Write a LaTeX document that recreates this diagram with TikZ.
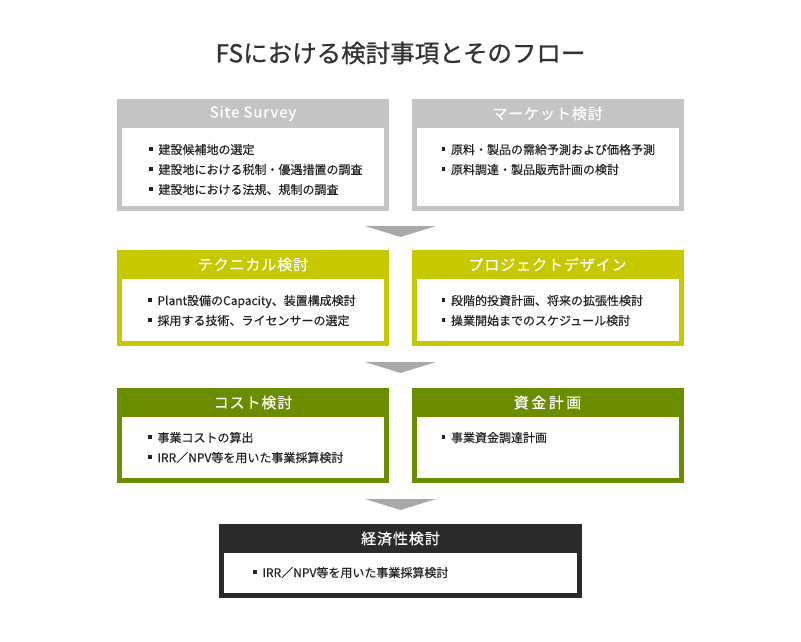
\documentclass[tikz,border=0pt]{standalone}
\usepackage{fontspec}
\setmainfont{Noto Sans CJK JP}
\newfontfamily\titlefont[FakeBold=0.8]{Noto Sans CJK JP}
\newfontfamily\headfont[FakeBold=0.5,LetterSpace=6]{Noto Sans CJK JP}
\newfontfamily\itemfont[FakeBold=0.2]{Noto Sans CJK JP}
\usepackage{tikz}
\usetikzlibrary{positioning}
\definecolor{surveygray}{HTML}{C4C4C4}
\definecolor{techyellow}{HTML}{C6C800}
\definecolor{costgreen}{HTML}{6A8D00}
\definecolor{resultdark}{HTML}{2A2A2A}
\definecolor{flowgray}{HTML}{A8A8A8}
\definecolor{textdark}{HTML}{222222}
\definecolor{titledark}{HTML}{333333}
\newcommand{\itemmark}{\rule[3.5pt]{3.5pt}{3.5pt}\hspace{6pt}}

\begin{document}
\begin{tikzpicture}
    [
    x=1pt, y=-1pt,
    stageframe/.style={rectangle,fill=#1,inner sep=0pt,minimum width=272pt},
    stagehead/.style={text=white,font=\headfont\fontsize{15}{17}\selectfont,minimum height=29pt,inner sep=0pt},
    stagebody/.style={rectangle,fill=white,inner sep=0pt,minimum width=262pt},
    stageitems/.style={align=left,text=textdark,font=\itemfont\fontsize{12}{20}\selectfont,inner sep=0pt},
    flow/.style={fill=flowgray},
    ]
    \useasboundingbox (0,0) rectangle (801,641);

    \node (title) at (400.5,53) [font=\titlefont\fontsize{24.5}{27}\selectfont,text=titledark] {FSにおける検討事項とそのフロー};

    \node (site) at (253,155) [stageframe=surveygray, minimum height=112pt] {};
    \node (sitehead) [stagehead, below=0pt of site.north] {Site Survey};
    \node (sitebody) [stagebody, below=29pt of site.north, minimum height=78pt] {};
    \node (siteitems) [stageitems, below right=16pt and 27pt of sitebody.north west] {\itemmark 建設候補地の選定\\ \itemmark 建設地における税制・優遇措置の調査\\ \itemmark 建設地における法規、規制の調査};

    \node (market) at (547.5,155) [stageframe=surveygray, minimum height=112pt] {};
    \node (markethead) [stagehead, below=0pt of market.north] {マーケット検討};
    \node (marketbody) [stagebody, below=29pt of market.north, minimum height=78pt] {};
    \node (marketitems) [stageitems, below right=16pt and 25pt of marketbody.north west] {\itemmark 原料・製品の需給予測および価格予測\\ \itemmark 原料調達・製品販売計画の検討};

    \node (tech) at (253,298) [stageframe=techyellow, minimum height=96pt] {};
    \node (techhead) [stagehead, below=0pt of tech.north] {テクニカル検討};
    \node (techbody) [stagebody, below=29pt of tech.north, minimum height=62pt] {};
    \node (techitems) [stageitems, below right=16pt and 26pt of techbody.north west] {\itemmark Plant設備のCapacity、装置構成検討\\ \itemmark 採用する技術、ライセンサーの選定};

    \node (design) at (547.5,298) [stageframe=techyellow, minimum height=96pt] {};
    \node (designhead) [stagehead, below=0pt of design.north] {プロジェクトデザイン};
    \node (designbody) [stagebody, below=29pt of design.north, minimum height=62pt] {};
    \node (designitems) [stageitems, below right=16pt and 25pt of designbody.north west] {\itemmark 段階的投資計画、将来の拡張性検討\\ \itemmark 操業開始までのスケジュール検討};

    \node (cost) at (253,435.5) [stageframe=costgreen, minimum height=95pt] {};
    \node (costhead) [stagehead, below=0pt of cost.north] {コスト検討};
    \node (costbody) [stagebody, below=29pt of cost.north, minimum height=61pt] {};
    \node (costitems) [stageitems, below right=15pt and 26pt of costbody.north west] {\itemmark 事業コストの算出\\ \itemmark IRR／NPV等を用いた事業採算検討};

    \node (fund) at (547.5,435.5) [stageframe=costgreen, minimum height=95pt] {};
    \node (fundhead) [stagehead, below=0pt of fund.north] {資\,金\,計\,画};
    \node (fundbody) [stagebody, below=29pt of fund.north, minimum height=61pt] {};
    \node (funditems) [stageitems, below right=15pt and 25pt of fundbody.north west] {\itemmark 事業資金調達計画};

    \node (econ) at (400.5,561) [stageframe=resultdark, minimum width=363pt, minimum height=74pt] {};
    \node (econhead) [stagehead, below=0pt of econ.north] {経済性検討};
    \node (econbody) [stagebody, below=29pt of econ.north, minimum width=353pt, minimum height=40pt] {};
    \node (econitems) [stageitems, below right=14pt and 29pt of econbody.north west] {\itemmark IRR／NPV等を用いた事業採算検討};

    \coordinate (flow1) at (400.5,226);
    \coordinate (flow2) at (400.5,362);
    \coordinate (flow3) at (400.5,499);
    \fill [flow] (flow1) ++(-35.5,0) -- ++(71,0) -- ++(-35.5,11) -- cycle;
    \fill [flow] (flow2) ++(-35.5,0) -- ++(71,0) -- ++(-35.5,11) -- cycle;
    \fill [flow] (flow3) ++(-35.5,0) -- ++(71,0) -- ++(-35.5,11) -- cycle;
  \end{tikzpicture}
\end{document}
